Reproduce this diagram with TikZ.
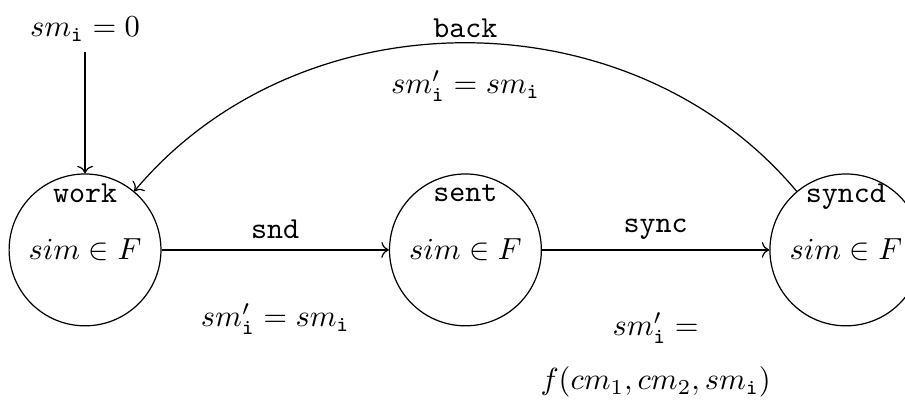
\documentclass[tikz,border=0pt]{standalone}
\usetikzlibrary{positioning, arrows.meta}

\begin{document}
\begin{tikzpicture}[
    node distance=2.62cm,
    state/.style={circle, draw, minimum size=1.75cm, inner sep=0pt},
    statename/.style={font=\ttfamily, anchor=north},
    act/.style={font=\ttfamily},
    arrow/.style={->},
]
\useasboundingbox (-0.98,-1.76) rectangle (9.45,2.88);

%% NODES
    % states
    \node[state, label={[statename]north:work}] (work) {$sim \in F$};
    \node[state, right=of work, label={[statename]north:sent}] (sent) {$sim \in F$};
    \node[state, right=of sent, label={[statename]north:syncd}] (syncd) {$sim \in F$};

    % initial value
    \node[above=1.4cm of work] (init) {$sm_{\mathtt{i}} = 0$};

%% CONNECTIONS
    % init -> work
    \draw[arrow] (init) -- (work);

    % work -> sent
    \draw[arrow] (work) -- node[act, above] {snd} node[below=5mm] {$sm'_{\mathtt{i}} = sm_{\mathtt{i}}$} (sent);

    % sent -> syncd
    \draw[arrow] (sent) -- node[act, above] {sync}
        node[below=6mm, align=center] {$sm'_{\mathtt{i}} =$\\[5.7pt] $f(cm_1, cm_2, sm_{\mathtt{i}})$} (syncd);

    % syncd -> work
    \draw[arrow] (syncd) to[bend right=50] node[act, above, inner sep=1.5pt] {back} node[below=2mm] {$sm'_{\mathtt{i}} = sm_{\mathtt{i}}$} (work);

\end{tikzpicture}
\end{document}
